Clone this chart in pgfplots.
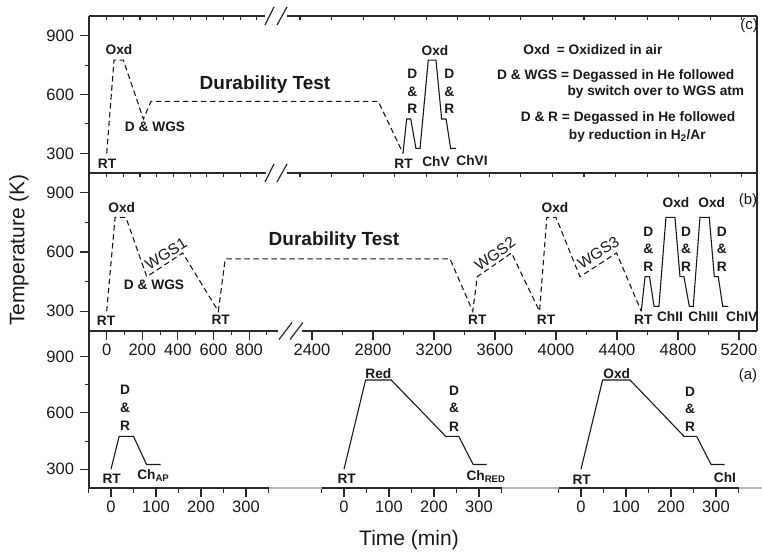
\documentclass[border=0pt]{standalone}
\usepackage{fontspec}
\setmainfont{Liberation Sans}
\usepackage{pgfplots}
\pgfplotsset{compat=1.18}
\definecolor{ink}{HTML}{1A1A1A}
\definecolor{frm}{HTML}{2A2A2A}
\definecolor{gl}{HTML}{B8B8B8}
\pgfplotsset{
  base/.style={scale only axis, anchor=south west, axis line style={draw=none},
    /pgf/number format/assume math mode=true,
    tick label style={font=\fontsize{16.5}{18}\selectfont, text=ink},
    yticklabel style={xshift=-2.5pt},
    tick style={line width=1.1pt, color=frm},
    major tick length=9pt, minor tick length=4.5pt, clip=false},
  dsh/.style={ink, line width=1.1pt, dash pattern=on 5.5pt off 3.5pt},
  sld/.style={ink, line width=1.1pt, line join=miter},
}
\tikzset{lb/.style={font=\fontsize{13.7}{15}\selectfont\bfseries, text=ink, inner sep=0pt},
  wl/.style={font=\fontsize{15.5}{17}\selectfont, text=ink, inner sep=0pt},
  pl/.style={font=\fontsize{15}{17}\selectfont, text=ink, inner sep=0pt},
  dt/.style={font=\fontsize{19}{21}\selectfont\bfseries, text=ink, inner sep=0pt}}
\newcommand{\lab}[4][lb]{\node[#1] at (#2pt,554pt-#3pt) {#4};}
\begin{document}
\begin{tikzpicture}
\path[use as bounding box] (0pt,0pt) rectangle (762pt,554pt);

% ---------------- panel (c) ----------------
\begin{axis}[base, at={(89pt,381pt)}, width=668pt, height=157pt,
  xmin=89, xmax=757, ymin=200, ymax=1000,
  xtick=\empty, ytick={300,600,900}, minor ytick={450,750},
  ytick pos=left, tick align=outside,
  x filter/.expression={x<1500 ? 106.7+0.1667*x : 300+0.15775*(x-2400)}]
\addplot[dsh] coordinates {(0,300) (44,775) (100,775) (220,475) (266,565) (2896,565) (3053,300)};
\addplot[sld] coordinates {(3053,300) (3076,475) (3102,475) (3135,325) (3161,325) (3213,775) (3262,775) (3298,475) (3326,475) (3355,325) (3389,325)};
\end{axis}
% top ticks of (c), pointing down
\begin{axis}[base, at={(89pt,381pt)}, width=668pt, height=157pt,
  xmin=89, xmax=757, ymin=200, ymax=1000, ytick=\empty,
  xtick={106.7,123.4,140,156.7,173.4,190.1,206.7,223.4,240.1,256.7,300,331.6,363.1,394.7,426.2,457.8,489.3,520.9,552.4,584,615.5,647.1,678.6,710.2,741.7},
  xticklabels={}, xtick pos=right, tick align=inside, major tick length=4.5pt]
\end{axis}
% bottom ticks of (c), pointing down
\begin{axis}[base, at={(89pt,381pt)}, width=668pt, height=157pt,
  xmin=89, xmax=757, ymin=200, ymax=1000, ytick=\empty,
  xtick={106.7,123.4,140,156.7,173.4,190.1,206.7,223.4,240.1,256.7,300,331.6,363.1,394.7,426.2,457.8,489.3,520.9,552.4,584,615.5,647.1,678.6,710.2,741.7},
  xticklabels={}, xtick pos=left, tick align=outside, major tick length=4.5pt]
\end{axis}

% ---------------- panel (b) ----------------
\begin{axis}[base, at={(89pt,223pt)}, width=668pt, height=158pt,
  xmin=89, xmax=757, ymin=200, ymax=1000,
  ytick={300,600,900}, minor ytick={450,750}, ytick pos=left, xtick pos=left, tick align=outside,
  xtick={106.7,142.3,177.9,213.5,249.1,312,373,434,495,556,617,678,739},
  xticklabels={0,200,400,600,800,2400,2800,3200,3600,4000,4400,4800,5200},
  minor xtick={124.5,160.1,195.7,231.3,266.9,342.5,403.5,464.5,525.5,586.5,647.5,708.5},
  x filter/.expression={x<1500 ? 106.7+0.178*x : 312+0.1525*(x-2400)}]
\addplot[dsh] coordinates {(0,300) (47,775) (108,775) (225,475) (427,595) (627,300) (666,565) (3305,565) (3454,300) (3484,475) (3708,595) (3892,300) (3940,775) (4000,775) (4157,475) (4397,595) (4559,300)};
\addplot[sld] coordinates {(4559,300) (4584,475) (4613,475) (4643,325) (4675,325) (4721,775) (4780,775) (4813,475) (4839,475) (4874,325) (4900,325) (4944,775) (5005,775) (5038,475) (5064,475) (5093,325) (5130,325)};
\end{axis}

% ---------------- panel (a) ----------------
\begin{axis}[base, at={(89pt,66pt)}, width=180pt, height=157pt,
  xmin=-50, xmax=350, ymin=200, ymax=1036, xtick=\empty,
  ytick={300,600,900}, minor ytick={450,750}, ytick pos=left, tick align=outside]
\end{axis}
\begin{axis}[base, at={(88.5pt,66pt)}, width=180pt, height=157pt,
  xmin=-50, xmax=350, ymin=200, ymax=1036, ytick=\empty,
  xtick={0,100,200,300}, minor xtick={-50,50,150,250,350}, xtick pos=left, tick align=outside]
\addplot[sld] coordinates {(0,300) (18,475) (50,475) (79,325) (110,325)};
\end{axis}
\begin{axis}[base, at={(321.5pt,66pt)}, width=180pt, height=157pt,
  xmin=-50, xmax=350, ymin=200, ymax=1036, ytick=\empty,
  xtick={0,100,200,300}, minor xtick={-50,50,150,250,350}, xtick pos=left, tick align=outside]
\addplot[sld] coordinates {(0,300) (48,775) (105,775) (226,475) (255,475) (287,325) (317,325)};
\end{axis}
\begin{axis}[base, at={(558.5pt,66pt)}, width=180pt, height=157pt,
  xmin=-50, xmax=350, ymin=200, ymax=1036, ytick=\empty,
  xtick={0,100,200,300}, minor xtick={-50,50,150,250,350}, xtick pos=left, tick align=outside]
\addplot[sld] coordinates {(0,300) (48,775) (109,775) (229,475) (257,475) (289,325) (319,325)};
\end{axis}

% ---------------- frame lines and breaks ----------------
\begin{scope}[frm, line width=1.2pt]
\draw (89pt,538pt) -- (265pt,538pt);
\draw (287pt,538pt) -- (757pt,538pt);
\draw (89pt,538pt) -- (89pt,66pt);
\draw (757pt,538pt) -- (757pt,223pt);
\draw (89pt,381pt) -- (266pt,381pt);
\draw (287pt,381pt) -- (757pt,381pt);
\draw (89pt,223pt) -- (278pt,223pt);
\draw (302pt,223pt) -- (757pt,223pt);
\draw (89pt,66pt) -- (269pt,66pt);
\draw (321.5pt,66pt) -- (501.5pt,66pt);
\draw (558.5pt,66pt) -- (738.5pt,66pt);
\draw (265pt,529pt) -- (274pt,547pt);
\draw (277pt,529pt) -- (287pt,547pt);
\draw (265pt,372pt) -- (274pt,390pt);
\draw (277pt,372pt) -- (287pt,390pt);
\draw (279pt,214.5pt) -- (292pt,231.5pt);
\draw (290pt,214.5pt) -- (303pt,231.5pt);
\end{scope}
\draw[gl, line width=1.2pt] (269pt,66pt) -- (321.5pt,66pt) (501.5pt,66pt) -- (558.5pt,66pt) (738.5pt,66pt) -- (762pt,66pt);

% ---------------- axis titles ----------------
\node[font=\fontsize{21}{24}\selectfont, text=ink, rotate=90] at (19pt,304pt) {Temperature (K)};
\node[font=\fontsize{21}{24}\selectfont, text=ink] at (409pt,14pt) {Time (min)};

% ---------------- labels (c) ----------------
\lab{119}{49.3}{Oxd}
\lab{155}{126.7}{D \& WGS}
\lab{107}{163.3}{RT}
\lab[dt]{265}{85}{Durability Test}
\lab{403.5}{163.5}{RT}
\lab{436}{162}{ChV}
\lab{472}{161}{ChVI}
\lab{435}{50.7}{Oxd}
\lab{412.3}{73.3}{D}\lab{412.3}{91.7}{\&}\lab{412.3}{108.3}{R}
\lab{449.3}{73.3}{D}\lab{449.3}{91.7}{\&}\lab{449.3}{108.3}{R}
\lab[pl]{749}{26}{(c)}
\lab{536.7}{49.3}{Oxd}
\lab[lb,anchor=west]{556.7}{49.3}{= Oxidized in air}
\lab{615.8}{76}{D \& WGS = Degassed in He followed}
\lab{655.8}{91.7}{by switch over to WGS atm}
\lab{628}{118.3}{D \& R = Degassed in He followed}
\lab{637.3}{136}{by reduction in H\textsubscript{2}/Ar}

% ---------------- labels (b) ----------------
\lab{121.7}{207.3}{Oxd}
\lab{154}{285}{D \& WGS}
\lab{106}{320.7}{RT}
\lab{220.7}{319.3}{RT}
\lab[wl,rotate=32]{166}{254}{WGS1}
\lab[dt]{334}{240.7}{Durability Test}
\lab[wl,rotate=36]{495}{254}{WGS2}
\lab{477.3}{319.3}{RT}
\lab{546}{319.3}{RT}
\lab{555}{207.3}{Oxd}
\lab[wl,rotate=32]{598.3}{252.5}{WGS3}
\lab{643.3}{319.3}{RT}
\lab{670}{316.7}{ChII}
\lab{703.3}{316.7}{ChIII}
\lab{741.7}{316.7}{ChIV}
\lab{676}{202.3}{Oxd}
\lab{711.7}{202.3}{Oxd}
\lab[pl]{748}{201}{(b)}
\lab{648.3}{231.7}{D}\lab{648.3}{249.3}{\&}\lab{648.3}{266.7}{R}
\lab{686}{231.7}{D}\lab{686}{249.3}{\&}\lab{686}{266.7}{R}
\lab{721.7}{231.7}{D}\lab{721.7}{249.3}{\&}\lab{721.7}{266.7}{R}

% ---------------- labels (a) ----------------
\lab{111.7}{479}{RT}
\lab{125}{389.3}{D}\lab{125}{407.7}{\&}\lab{125}{425.7}{R}
\lab{153.3}{475.7}{Ch\textsubscript{AP}}
\lab{346.7}{479}{RT}
\lab{378.3}{373.3}{Red}
\lab{454}{390.7}{D}\lab{454}{408.3}{\&}\lab{454}{426.7}{R}
\lab{486}{476.7}{Ch\textsubscript{RED}}
\lab{581.7}{479.3}{RT}
\lab{616.7}{373.3}{Oxd}
\lab{690}{391.7}{D}\lab{690}{409.3}{\&}\lab{690}{426.7}{R}
\lab{725}{477.3}{ChI}
\lab[pl]{748}{376}{(a)}
\end{tikzpicture}
\end{document}
